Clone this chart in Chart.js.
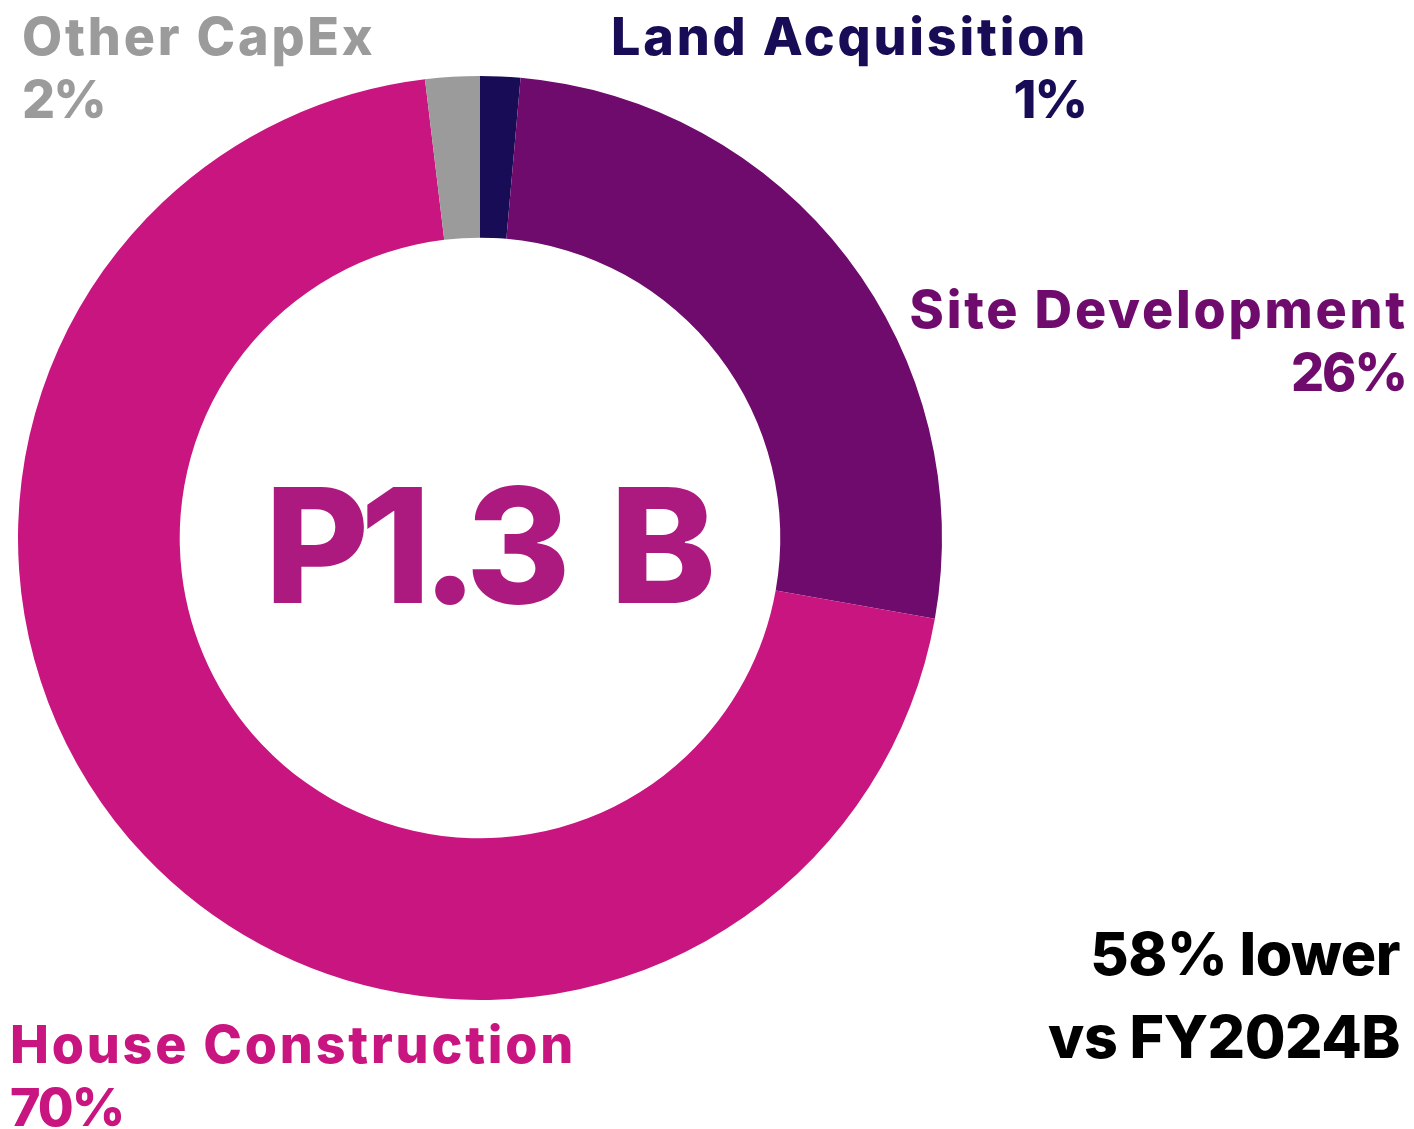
<!DOCTYPE html>
<html>
<head>
<meta charset="utf-8">
<script src="https://cdn.jsdelivr.net/npm/chart.js@4/dist/chart.umd.min.js"></script>
<style>
  html, body { margin: 0; padding: 0; background: #fff; }
  #wrap { width: 1414px; height: 1129px; position: relative; }
</style>
</head>
<body>
<div id="wrap"><canvas id="capexChart"></canvas></div>
<script>
const categories = ["Land Acquisition", "Site Development", "House Construction", "Other CapEx"];
const shares = [1.4, 26.4, 70.3, 1.9];
const shareLabels = ["1%", "26%", "70%", "2%"];
const sliceColors = ["#170c55", "#6e0b6c", "#c8157f", "#9b9b9b"];
const totalLabel = "P1.3 B";
const noteLines = ["58% lower", "vs FY2024B"];

// label placement: [x, y of first line, align]
const labelPos = [
  [1088, 55, "right"],
  [1408, 328, "right"],
  [10, 1063, "left"],
  [22, 55, "left"],
];

const labelsPlugin = {
  id: "sliceLabels",
  afterDraw(chart) {
    const c = chart.ctx;
    const arc = chart.getDatasetMeta(0).data[0];
    c.save();
    c.textBaseline = "alphabetic";
    categories.forEach((name, i) => {
      const [x, y, align] = labelPos[i];
      c.fillStyle = sliceColors[i];
      c.textAlign = align;
      c.font = "800 52px Inter";
      c.letterSpacing = "2.8px";
      c.fillText(name, x, y);
      c.letterSpacing = "-2px";
      c.fillText(shareLabels[i], align === "right" ? x - 2 : x, y + 63);
    });
    // center total
    c.fillStyle = "#ac1a80";
    c.textAlign = "center";
    c.font = "800 160px Inter";
    c.letterSpacing = "-9px";
    c.wordSpacing = "22px";
    c.fillText(totalLabel, arc.x + 6, 603);
    c.wordSpacing = "0px";
    // note
    c.fillStyle = "#000";
    c.textAlign = "right";
    c.font = "800 59px Inter";
    c.letterSpacing = "-0.5px";
    c.fillText(noteLines[0], 1400, 975);
    c.fillText(noteLines[1], 1400, 1058);
    c.restore();
  },
};

new Chart(document.getElementById("capexChart"), {
  type: "doughnut",
  data: {
    labels: categories,
    datasets: [
      {
        data: shares,
        backgroundColor: sliceColors,
        borderWidth: 0,
        hoverOffset: 0,
      },
    ],
  },
  options: {
    responsive: true,
    maintainAspectRatio: false,
    animation: false,
    cutout: "65%",
    layout: {
      padding: { left: 18, right: 472, top: 76, bottom: 129 },
    },
    plugins: {
      legend: { display: false },
      tooltip: { enabled: false },
    },
  },
  plugins: [labelsPlugin],
});
</script>
</body>
</html>
